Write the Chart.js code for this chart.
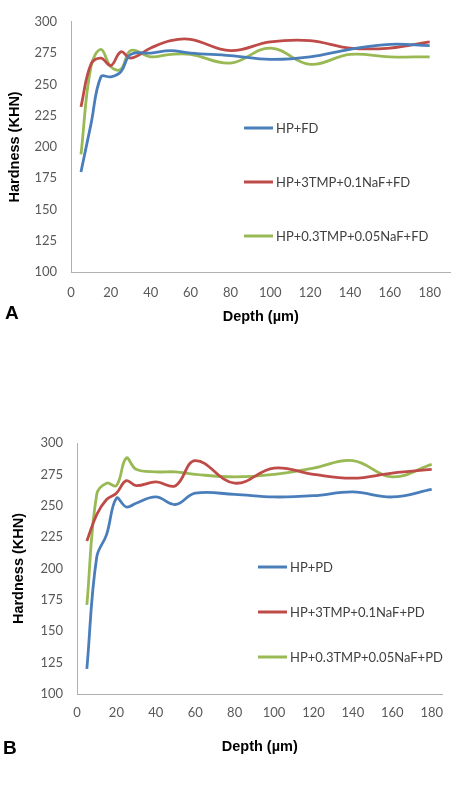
<!DOCTYPE html>
<html>
<head>
<meta charset="utf-8">
<script src="https://cdn.jsdelivr.net/npm/chart.js@4.4.1/dist/chart.umd.min.js"></script>
<style>
    body { margin: 0; background: #fff; width: 454px; height: 805px; position: relative; overflow: hidden; }
    .box { position: absolute; left: 0; width: 454px; }
    .tag { position: absolute; font: bold 19px "Liberation Sans", Arial, sans-serif; color: #000; }
</style>
</head>
<body>
<div class="box" style="top:0;height:330px"><canvas id="chartA" width="454" height="330"></canvas></div>
<div class="box" style="top:420px;height:340px"><canvas id="chartB" width="454" height="340"></canvas></div>
<div class="tag" style="left:5px;top:302px">A</div>
<div class="tag" style="left:3px;top:737px">B</div>
<script>
const depths = [5, 10, 15, 20, 25, 30, 40, 50, 60, 80, 100, 120, 140, 160, 180];
const depthTicks = [0, 20, 40, 60, 80, 100, 120, 140, 160, 180];
const hardnessTicks = [100, 125, 150, 175, 200, 225, 250, 275, 300];

// panel A (FD)
const labelsA = ['HP+FD', 'HP+3TMP+0.1NaF+FD', 'HP+0.3TMP+0.05NaF+FD'];
const hpFD = [180, 218, 256, 256, 260, 274, 275, 277, 275, 273, 270, 272, 278, 282, 281];
const tmp3FD = [232, 266, 271, 265, 276, 271, 279, 285, 286, 277, 284, 285, 279, 279, 284];
const tmp03FD = [194, 264, 278, 264, 262, 277, 272, 274, 274, 267, 279, 266, 274, 272, 272];

// panel B (PD)
const labelsB = ['HP+PD', 'HP+3TMP+0.1NaF+PD', 'HP+0.3TMP+0.05NaF+PD'];
const hpPD = [120, 209, 227, 256, 249, 252, 257, 251, 260, 259, 257, 258, 261, 257, 263];
const tmp3PD = [222, 243, 255, 260, 270, 266, 269, 266, 286, 268, 280, 275, 272, 276, 279];
const tmp03PD = [171, 259, 268, 266, 288, 279, 277, 277, 275, 273, 275, 280, 286, 273, 283];

const colors = ['#4a7ebb', '#be4b48', '#98b954'];

function toPoints(values) {
    return depths.map((d, i) => ({ x: d, y: values[i] }));
}

// legend drawn inside the plot, like the Excel original
const insideLegend = {
    id: 'insideLegend',
    afterDraw(chart, args, opts) {
        const ctx = chart.ctx;
        ctx.save();
        ctx.font = '13px Lato, sans-serif';
        ctx.fillStyle = '#404040';
        ctx.textBaseline = 'middle';
        chart.data.datasets.forEach((ds, i) => {
            const y = opts.y[i];
            ctx.strokeStyle = ds.borderColor;
            ctx.lineWidth = 3;
            ctx.beginPath();
            ctx.moveTo(opts.x1, y);
            ctx.lineTo(opts.x2, y);
            ctx.stroke();
            ctx.fillText(ds.label, opts.x2 + 3, y + 1);
        });
        ctx.restore();
    }
};

function makeChart(id, labels, series, cfg) {
    const ctx = document.getElementById(id).getContext('2d');
    return new Chart(ctx, {
        type: 'line',
        data: {
            datasets: series.map((s, i) => ({
                label: labels[i],
                data: toPoints(s),
                borderColor: colors[i],
                backgroundColor: colors[i],
                borderWidth: 2.8,
                pointRadius: 0,
                tension: 0.4,
                fill: false
            }))
        },
        options: {
            responsive: false,
            animation: false,
            layout: { padding: { top: cfg.top, right: 0, bottom: 0, left: 0 } },
            plugins: {
                legend: { display: false },
                tooltip: { enabled: false },
                insideLegend: cfg.legend
            },
            scales: {
                x: {
                    type: 'linear',
                    min: 0,
                    max: cfg.xMax,
                    afterBuildTicks: s => { s.ticks = depthTicks.map(v => ({ value: v })); },
                    afterFit: s => { s.height = cfg.xHeight; },
                    grid: { display: false, drawTicks: false },
                    border: { display: true, color: '#b0b0b0', width: 1 },
                    ticks: { color: '#595959', font: { family: 'Lato', size: 13 }, padding: cfg.xPad, maxRotation: 0 },
                    title: {
                        display: true,
                        text: 'Depth (µm)',
                        color: '#000',
                        font: { family: 'Liberation Sans', size: 14.5, weight: 'bold' },
                        padding: { top: 0, bottom: 4 }
                    }
                },
                y: {
                    min: 100,
                    max: 300,
                    afterBuildTicks: s => { s.ticks = hardnessTicks.map(v => ({ value: v })); },
                    afterFit: s => { s.width = cfg.yWidth; },
                    grid: { display: false, drawTicks: false },
                    border: { display: true, color: '#b0b0b0', width: 1 },
                    ticks: { color: '#595959', font: { family: 'Lato', size: 13 }, padding: 14 },
                    title: {
                        display: true,
                        text: 'Hardness (KHN)',
                        color: '#000',
                        font: { family: 'Liberation Sans', size: 14.5, weight: 'bold' },
                        padding: { top: cfg.yTitlePad, bottom: 0 }
                    }
                }
            }
        },
        plugins: [insideLegend]
    });
}

makeChart('chartA', labelsA, [hpFD, tmp3FD, tmp03FD], {
    top: 12, xMax: 190.4, xHeight: 58, xPad: 13, yWidth: 71, yTitlePad: 6,
    legend: { x1: 244, x2: 273, y: [128, 182, 236] }
});

makeChart('chartB', labelsB, [hpPD, tmp3PD, tmp03PD], {
    top: 23, xMax: 185.5, xHeight: 66, xPad: 11, yWidth: 77, yTitlePad: 10,
    legend: { x1: 258, x2: 287, y: [147, 192, 237] }
});
</script>
</body>
</html>
